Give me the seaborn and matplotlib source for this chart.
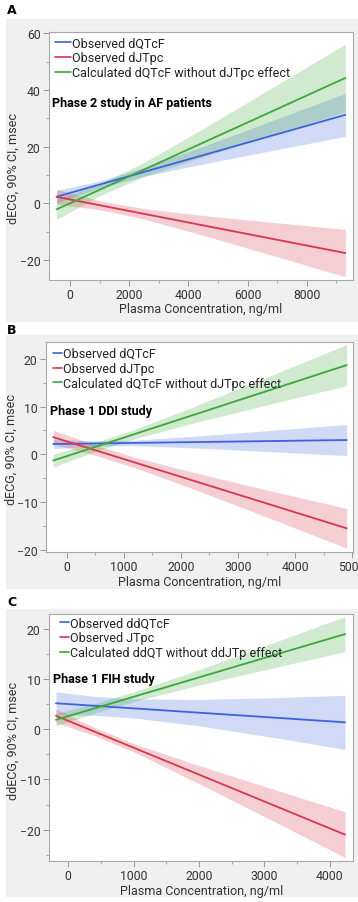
import numpy as np
import pandas as pd
import matplotlib
matplotlib.use("Agg")
import matplotlib.pyplot as plt
from matplotlib.patches import Rectangle
from matplotlib.lines import Line2D
from matplotlib.ticker import MultipleLocator
import seaborn as sns

sns.set_theme(style="white")
plt.rcParams['font.family'] = ['Roboto', 'DejaVu Sans']

# ---------------- data ----------------
series_names = ["blue", "red", "green"]

# Panel A
a_labels = ["Observed dQTcF", "Observed dJTpc", "Calculated dQTcF without dJTpc effect"]
a_title = "Phase 2 study in AF patients"
a_line_x = [-450, 9300]
a_blue = [2.35, 31.2]
a_red = [2.3, -17.5]
a_green = [-2.1, 44.2]
a_band_x = [-450, 1000, 2500, 4500, 7000, 9300]
a_blue_lo = [0.15, 5.40, 9.58, 13.89, 18.98, 23.6]
a_blue_hi = [4.55, 7.88, 12.58, 20.11, 29.82, 38.8]
a_red_lo = [-0.25, -2.25, -5.53, -11.25, -18.81, -25.85]
a_red_hi = [4.85, 0.96, -1.85, -4.25, -6.85, -9.15]
a_green_lo = [-5.65, 2.67, 9.42, 16.47, 24.74, 32.25]
a_green_hi = [1.45, 6.91, 14.40, 26.35, 41.82, 56.15]

# Panel B
b_labels = ["Observed dQTcF", "Observed dJTpc", "Calculated dQTcF without dJTpc effect"]
b_title = "Phase 1 DDI study"
b_line_x = [-234, 4903]
b_blue = [2.16, 3.0]
b_red = [3.6, -15.5]
b_green = [-1.3, 18.7]
b_band_x = [-234, 500, 1200, 2200, 3500, 4903]
b_blue_lo = [1.21, 1.73, 1.81, 1.36, 0.60, -0.25]
b_blue_hi = [3.11, 2.83, 2.99, 3.76, 4.94, 6.25]
b_red_lo = [2.15, -0.21, -2.84, -7.17, -13.12, -19.65]
b_red_hi = [5.05, 1.95, -0.62, -3.73, -7.44, -11.35]
b_green_lo = [-2.68, 0.62, 3.31, 6.49, 10.33, 14.4]
b_green_hi = [0.08, 2.50, 5.25, 9.87, 16.15, 23.0]

# Panel C
c_labels = ["Observed ddQTcF", "Observed JTpc", "Calculated ddQT without ddJTp effect"]
c_title = "Phase 1 FIH study"
c_line_x = [-188, 4231]
c_blue = [5.2, 1.4]
c_red = [2.7, -21.0]
c_green = [1.9, 19.0]
c_band_x = [-188, 400, 1000, 2000, 3200, 4231]
c_blue_lo = [2.95, 2.79, 2.28, 0.69, -1.75, -4.0]
c_blue_hi = [7.45, 6.59, 6.08, 5.95, 6.33, 6.8]
c_red_lo = [1.35, -1.28, -4.50, -10.84, -18.73, -25.55]
c_red_hi = [4.05, 0.38, -2.84, -7.22, -12.21, -16.45]
c_green_lo = [0.66, 3.23, 5.55, 8.83, 12.45, 15.5]
c_green_hi = [3.14, 5.13, 7.45, 11.91, 17.57, 22.5]

ylabels = ["dECG, 90% CI, msec", "dECG, 90% CI, msec", "ddECG, 90% CI, msec"]
xlabel = "Plasma Concentration, ng/ml"

# ---------------- style ----------------
W, H = 358, 903
colors = {"blue": "#3d63dc", "red": "#d8364a", "green": "#3aa83a"}
TXT = "#333333"
FS = 9
TFS = 8.8

fig = plt.figure(figsize=(W / 100, H / 100), dpi=100)
fig.patch.set_facecolor("white")


def fx(px):
    return px / W


def fy(py):
    return 1 - py / H


def axes_px(l, r, t, b):
    return fig.add_axes([fx(l), fy(b), fx(r) - fx(l), (b - t) / H])


# gray panel backgrounds
for (t, b) in [(20, 323), (336, 590), (610, 898)]:
    fig.patches.append(Rectangle((fx(6), fy(b)), 1 - fx(6), (b - t) / H,
                                 transform=fig.transFigure, facecolor="#f0f0f0",
                                 edgecolor="none", zorder=-10))

panels = [
    dict(letter="A", letter_y=10.5, box=(49, 353, 33, 281),
         xlim=(-708, 9560), ylim=(-27, 60.4), xmaj=2000, xmin=1000, ymaj=20, ymin=10,
         line_x=a_line_x, lines={"blue": a_blue, "red": a_red, "green": a_green},
         band_x=a_band_x,
         bands={"blue": (a_blue_lo, a_blue_hi), "red": (a_red_lo, a_red_hi), "green": (a_green_lo, a_green_hi)},
         labels=a_labels, title=a_title, leg=(55, 37.5), handle=1.25, title_xy=(51.5, 104),
         xlabel_y=310, ylabel_xy=(13, 168)),
    dict(letter="B", letter_y=331, box=(46, 352.7, 342.7, 552.7),
         xlim=(-362, 5009), ylim=(-20.4, 23.6), xmaj=1000, xmin=500, ymaj=10, ymin=5,
         line_x=b_line_x, lines={"blue": b_blue, "red": b_red, "green": b_green},
         band_x=b_band_x,
         bands={"blue": (b_blue_lo, b_blue_hi), "red": (b_red_lo, b_red_hi), "green": (b_green_lo, b_green_hi)},
         labels=b_labels, title=b_title, leg=(53, 348), handle=0.7, title_xy=(50.5, 411.7),
         xlabel_y=583, ylabel_xy=(11, 450)),
    dict(letter="C", letter_y=603, box=(49, 353.3, 615, 861.7),
         xlim=(-295, 4358), ylim=(-26.2, 23.0), xmaj=1000, xmin=500, ymaj=10, ymin=5,
         line_x=c_line_x, lines={"blue": c_blue, "red": c_red, "green": c_green},
         band_x=c_band_x,
         bands={"blue": (c_blue_lo, c_blue_hi), "red": (c_red_lo, c_red_hi), "green": (c_green_lo, c_green_hi)},
         labels=c_labels, title=c_title, leg=(60, 617.5), handle=0.7, title_xy=(53, 679.3),
         xlabel_y=891.7, ylabel_xy=(13, 741)),
]

for p, yl in zip(panels, ylabels):
    l, r, t, b = p["box"]
    ax = axes_px(l, r, t, b)
    ax.set_facecolor("white")
    # bands
    for s in series_names:
        lo, hi = p["bands"][s]
        ax.fill_between(p["band_x"], lo, hi, color=colors[s], alpha=0.24, linewidth=0, zorder=1)
    # lines
    rows = []
    for s in series_names:
        for xv, yv in zip(p["line_x"], p["lines"][s]):
            rows.append({"x": xv, "y": yv, "series": s})
    df = pd.DataFrame(rows)
    sns.lineplot(data=df, x="x", y="y", hue="series", palette=colors,
                 hue_order=series_names, ax=ax, linewidth=1.3, legend=False, zorder=3)
    ax.set_xlim(*p["xlim"])
    ax.set_ylim(*p["ylim"])
    ax.set_xlabel("")
    ax.set_ylabel("")
    ax.xaxis.set_major_locator(MultipleLocator(p["xmaj"]))
    ax.xaxis.set_minor_locator(MultipleLocator(p["xmin"]))
    ax.yaxis.set_major_locator(MultipleLocator(p["ymaj"]))
    ax.yaxis.set_minor_locator(MultipleLocator(p["ymin"]))
    ax.tick_params(axis="both", which="major", direction="out", length=4, width=0.7,
                   color="#999999", labelsize=TFS, labelcolor=TXT, pad=2,
                   bottom=True, left=True)
    ax.tick_params(axis="both", which="minor", direction="out", length=2.5, width=0.6,
                   color="#999999", bottom=True, left=True)
    for sp in ax.spines.values():
        sp.set_color("#a8a8a8")
        sp.set_linewidth(0.8)
    # legend
    handles = [Line2D([0], [0], color=colors[s], lw=1.2) for s in series_names]
    lx, ly = p["leg"]
    ax.legend(handles, p["labels"], loc="upper left", bbox_to_anchor=(fx(lx), fy(ly)),
              bbox_transform=fig.transFigure, frameon=False, fontsize=FS,
              handlelength=p["handle"], handletextpad=0.1, labelspacing=0.15,
              borderpad=0, borderaxespad=0, labelcolor="#222222")
    # bold study title
    tx, ty = p["title_xy"]
    fig.text(fx(tx), fy(ty), p["title"], fontsize=FS, fontweight="bold",
             color="black", ha="left", va="center")
    # axis labels
    fig.text(fx((l + r) / 2), fy(p["xlabel_y"]), xlabel, fontsize=FS, color=TXT,
             ha="center", va="center")
    yx, yy = p["ylabel_xy"]
    fig.text(fx(yx), fy(yy), yl, fontsize=FS, color=TXT, rotation=90,
             ha="center", va="center")
    fig.text(fx(7), fy(p["letter_y"]), p["letter"], fontsize=9, fontweight="bold",
             color="black", ha="left", va="center", family=["DejaVu Sans"])

fig.savefig("out.png", dpi=100, facecolor="white")
